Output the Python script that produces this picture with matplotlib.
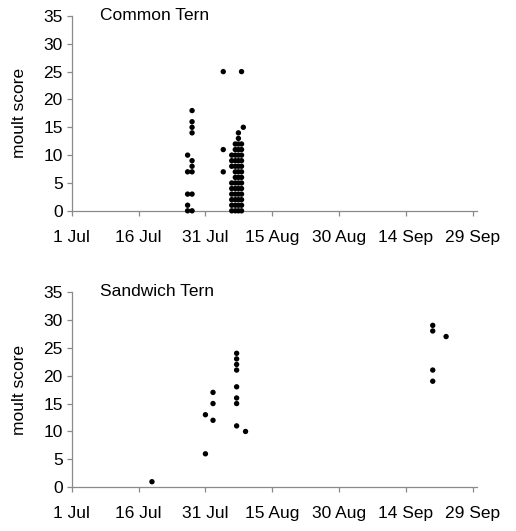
import matplotlib
matplotlib.use("Agg")
import matplotlib.pyplot as plt

plt.rcParams['font.family'] = ['Liberation Sans', 'DejaVu Sans']

tick_days = [0, 15, 30, 45, 60, 75, 90]
tick_labels = ["1 Jul", "16 Jul", "31 Jul", "15 Aug", "30 Aug", "14 Sep", "29 Sep"]
y_ticks = [0, 5, 10, 15, 20, 25, 30, 35]

# Common Tern: day since 1 Jul, moult score
common_day = ([26]*5 + [27]*9 + [34]*3
              + [35.9]*9 + [36.7]*13 + [37.4]*15 + [38.1]*14 + [38.5])
common_score = ([0, 1, 3, 7, 10]
                + [0, 3, 7, 8, 9, 14, 15, 16, 18]
                + [25, 11, 7]
                + [0, 1, 2, 3, 4, 5, 8, 9, 10]
                + [0, 1, 2, 3, 4, 5, 6, 7, 8, 9, 10, 11, 12]
                + [0, 1, 2, 3, 4, 5, 6, 7, 8, 9, 10, 11, 12, 13, 14]
                + [0, 1, 2, 3, 4, 5, 6, 7, 8, 9, 10, 11, 12, 25]
                + [15])

# Sandwich Tern
sandwich_day = [18, 30, 30, 31.7, 31.7, 31.7,
                37, 37, 37, 37, 37, 37, 37, 37, 39,
                81, 81, 84, 81, 81]
sandwich_score = [1, 6, 13, 17, 15, 12,
                  24, 23, 22, 21, 18, 16, 15, 11, 10,
                  29, 28, 27, 21, 19]

fig = plt.figure(figsize=(5.16, 5.31), dpi=100)
ax1 = fig.add_axes([0.139, 0.603, 0.786, 0.367])
ax2 = fig.add_axes([0.139, 0.0823, 0.786, 0.368])

gray = '#8a8a8a'
for ax, xs, ys, title in [(ax1, common_day, common_score, "Common Tern"),
                          (ax2, sandwich_day, sandwich_score, "Sandwich Tern")]:
    ax.scatter(xs, ys, s=15, c='black', edgecolors='none', zorder=3, clip_on=False)
    ax.set_xlim(0, 91)
    ax.set_ylim(0, 35)
    ax.set_xticks(tick_days)
    ax.set_xticklabels(tick_labels)
    ax.set_yticks(y_ticks)
    for s in ['top', 'right']:
        ax.spines[s].set_visible(False)
    for s in ['left', 'bottom']:
        ax.spines[s].set_color(gray)
        ax.spines[s].set_linewidth(0.9)
    ax.tick_params(axis='both', colors=gray, length=3.5, width=0.9,
                   labelcolor='black', labelsize=12.5)
    ax.tick_params(axis='x', pad=10)
    ax.tick_params(axis='y', pad=3)
    ax.set_ylabel("moult score", fontsize=12.5, labelpad=12)
    ax.text(6.3, 35, title, fontsize=12.5, va='center', ha='left')

fig.savefig("out.png", dpi=100)
